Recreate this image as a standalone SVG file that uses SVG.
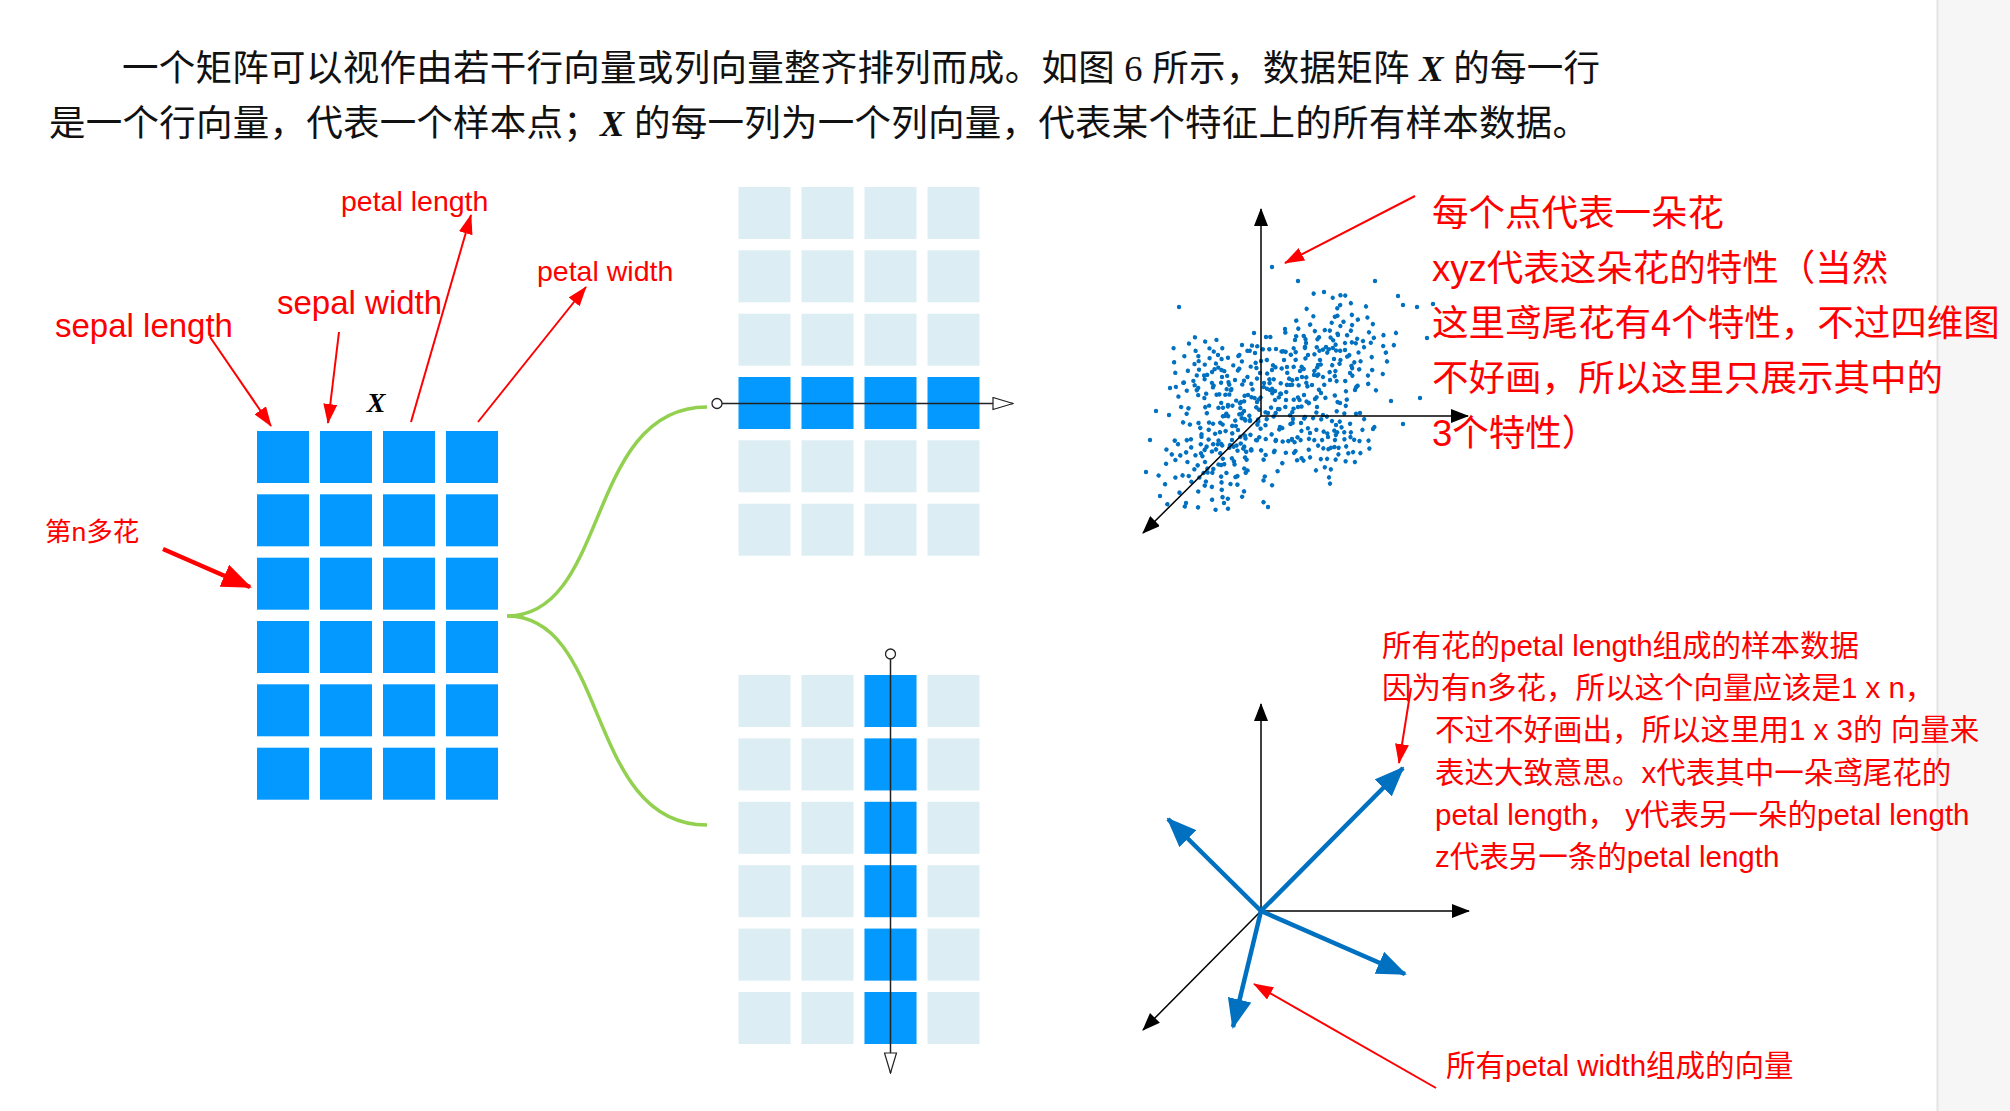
<svg xmlns="http://www.w3.org/2000/svg" xmlns:xlink="http://www.w3.org/1999/xlink" width="2010" height="1111" viewBox="0 0 2010 1111">
<style>
.para{font-family:"Liberation Serif","Noto Sans CJK SC",serif;font-size:36.5px;fill:#111}
.lbl{font-family:"Liberation Sans","Noto Sans CJK SC",sans-serif;fill:#ff0000}
.big{font-size:33px}
.sm{font-size:28.5px}
.note{font-size:36.5px}
.note2{font-size:29.5px}
.red{stroke:#ff0000;stroke-width:2;fill:none}
.redb{stroke:#ff0000;stroke-width:4.5;fill:none}
.axis{stroke:#000;stroke-width:1.5;fill:none}
.vec{stroke:#0070c0;stroke-width:4.5;fill:none}
.dots{stroke:#0070c0;stroke-width:4.4;stroke-linecap:round;fill:none;vector-effect:non-scaling-stroke}
.blue{fill:#0399ff}
.light{fill:#dcedf3}
.brace{stroke:#92d050;stroke-width:3.5;fill:none}
.track{stroke:#222;stroke-width:1.5;fill:none}
</style>
<defs>
<marker id="mR" viewBox="0 0 20 14" refX="19" refY="7" markerWidth="20" markerHeight="14" markerUnits="userSpaceOnUse" orient="auto"><path d="M0,0 L20,7 L0,14 z" fill="#ff0000"/></marker>
<marker id="mRb" viewBox="0 0 30 24" refX="28" refY="12" markerWidth="30" markerHeight="24" markerUnits="userSpaceOnUse" orient="auto"><path d="M0,0 L30,12 L0,24 z" fill="#ff0000"/></marker>
<marker id="mK" viewBox="0 0 18 14" refX="17" refY="7" markerWidth="18" markerHeight="14" markerUnits="userSpaceOnUse" orient="auto"><path d="M0,0 L18,7 L0,14 z" fill="#000"/></marker>
<marker id="mB" viewBox="0 0 30 24" refX="28" refY="12" markerWidth="30" markerHeight="24" markerUnits="userSpaceOnUse" orient="auto"><path d="M0,0 L30,12 L0,24 z" fill="#0070c0"/></marker>
<marker id="mO" viewBox="0 0 22 14" refX="21" refY="7" markerWidth="22" markerHeight="14" markerUnits="userSpaceOnUse" orient="auto"><path d="M1,1 L21,7 L1,13 z" fill="#fff" stroke="#222" stroke-width="1.2"/></marker>
<g id="r4"><rect x="0" y="0" width="52" height="52"/><rect x="63" y="0" width="52" height="52"/><rect x="126" y="0" width="52" height="52"/><rect x="189" y="0" width="52" height="52"/></g>
<path id="cl" class="dots" d="M0 0h.01M12 -8h.01M-15 6h.01M25 14h.01M-30 -12h.01M8 22h.01M-6 -25h.01M40 -5h.01M-42 10h.01M18 -30h.01M-22 28h.01M33 30h.01M-35 -32h.01M5 -45h.01M-10 42h.01M50 18h.01M-55 -5h.01M28 -20h.01M-18 -15h.01M14 10h.01M-4 15h.01M22 0h.01M-26 -2h.01M10 -14h.01M-12 24h.01M36 -38h.01M-40 36h.01M60 -12h.01M-62 20h.01M3 34h.01M46 40h.01M-48 -40h.01M20 48h.01M-24 -48h.01M65 5h.01M-68 -8h.01M7 -6h.01M-9 9h.01M31 8h.01M-33 17h.01M16 -42h.01M-14 -36h.01M44 -26h.01M-46 26h.01M55 -35h.01M-52 45h.01M27 22h.01M-29 -24h.01M2 54h.01M-5 -56h.01M70 28h.01M-72 -30h.01M38 52h.01M-36 -52h.01M11 38h.01M-20 5h.01M48 -50h.01M-58 55h.01M24 -10h.01M-3 -18h.01"/>
</defs>

<rect id="side-panel" x="1937" y="0" width="73" height="1111" fill="#f6f6f6"/>
<line x1="1937.5" y1="0" x2="1937.5" y2="1111" stroke="#e4e4e4" stroke-width="2"/>

<g id="paragraph">
<text class="para" x="122" y="80.5" textLength="1478">一个矩阵可以视作由若干行向量或列向量整齐排列而成。如图 6 所示，数据矩阵 <tspan font-weight="bold" font-style="italic">X</tspan> 的每一行</text>
<text class="para" x="49" y="135.5" textLength="1540">是一个行向量，代表一个样本点；<tspan font-weight="bold" font-style="italic">X</tspan> 的每一列为一个列向量，代表某个特征上的所有样本数据。</text>
</g>

<g id="matrix-X">
<use href="#r4" x="257" y="431" class="blue"/>
<use href="#r4" x="257" y="494.3" class="blue"/>
<use href="#r4" x="257" y="557.7" class="blue"/>
<use href="#r4" x="257" y="621" class="blue"/>
<use href="#r4" x="257" y="684.3" class="blue"/>
<use href="#r4" x="257" y="747.7" class="blue"/>
<text x="376" y="412" text-anchor="middle" font-family="Liberation Serif, serif" font-weight="bold" font-style="italic" font-size="28" fill="#000">X</text>
</g>

<g id="label-sepal-length"><text class="lbl big" x="55" y="337">sepal length</text></g>
<g id="label-sepal-width"><text class="lbl big" x="277" y="314">sepal width</text></g>
<g id="label-petal-length"><text class="lbl sm" x="341" y="211">petal length</text></g>
<g id="label-petal-width"><text class="lbl sm" x="537" y="281">petal width</text></g>
<g id="label-nth"><text class="lbl" font-size="26.5" x="45" y="541">第n多花</text></g>

<g id="matrix-row">
<use href="#r4" x="738.5" y="187" class="light"/>
<use href="#r4" x="738.5" y="250.3" class="light"/>
<use href="#r4" x="738.5" y="313.7" class="light"/>
<use href="#r4" x="738.5" y="377" class="blue"/>
<use href="#r4" x="738.5" y="440.3" class="light"/>
<use href="#r4" x="738.5" y="503.7" class="light"/>
</g>

<g id="matrix-col">
<use href="#r4" x="738.5" y="675" class="light"/>
<use href="#r4" x="738.5" y="738.4" class="light"/>
<use href="#r4" x="738.5" y="801.8" class="light"/>
<use href="#r4" x="738.5" y="865.2" class="light"/>
<use href="#r4" x="738.5" y="928.6" class="light"/>
<use href="#r4" x="738.5" y="992" class="light"/>
<rect class="blue" x="864.5" y="675" width="52" height="52"/>
<rect class="blue" x="864.5" y="738.4" width="52" height="52"/>
<rect class="blue" x="864.5" y="801.8" width="52" height="52"/>
<rect class="blue" x="864.5" y="865.2" width="52" height="52"/>
<rect class="blue" x="864.5" y="928.6" width="52" height="52"/>
<rect class="blue" x="864.5" y="992" width="52" height="52"/>
</g>

<g id="scatter3d">
<use href="#cl" transform="translate(1290,385) rotate(0) scale(1.0)"/>
<use href="#cl" transform="translate(1250,420) rotate(73) scale(0.95)"/>
<use href="#cl" transform="translate(1320,360) rotate(151) scale(0.85)"/>
<use href="#cl" transform="translate(1230,445) rotate(217) scale(0.85)"/>
<use href="#cl" transform="translate(1275,400) rotate(289) scale(0.8)"/>
<use href="#cl" transform="translate(1345,343) rotate(35) scale(0.75)"/>
<use href="#cl" transform="translate(1205,462) rotate(110) scale(0.75)"/>
<use href="#cl" transform="translate(1212,372) rotate(190) scale(0.6)"/>
<use href="#cl" transform="translate(1335,440) rotate(320) scale(0.55)"/>
<path class="dots" d="M1272 267h.01M1298 281h.01M1375 281h.01M1324 292h.01M1179 307h.01M1398 296h.01M1403 305h.01M1417 307h.01M1433 304h.01M1427 338h.01M1391 401h.01M1420 398h.01M1403 424h.01M1373 429h.01M1146 472h.01M1160 496h.01M1268 507h.01M1156 411h.01M1169 415h.01M1186 503h.01M1224 503h.01M1150 440h.01M1170 388h.01"/>
<path class="axis" d="M1261,416 V209" marker-end="url(#mK)"/>
<path class="axis" d="M1261,416 H1468" marker-end="url(#mK)"/>
<path class="axis" d="M1261,416 L1143,533" marker-end="url(#mK)"/>
</g>

<g id="vectors3d">
<path class="axis" d="M1261,911 V704" marker-end="url(#mK)"/>
<path class="axis" d="M1261,911 H1469" marker-end="url(#mK)"/>
<path class="axis" d="M1261,911 L1143,1030" marker-end="url(#mK)"/>
<path class="vec" d="M1261,911 L1403,768" marker-end="url(#mB)"/>
<path class="vec" d="M1261,911 L1168,819" marker-end="url(#mB)"/>
<path class="vec" d="M1261,911 L1405,974" marker-end="url(#mB)"/>
<path class="vec" d="M1261,911 L1233,1027" marker-end="url(#mB)"/>
</g>

<g id="note-points">
<text class="lbl note" x="1432" y="225.5">每个点代表一朵花</text>
<text class="lbl note" x="1432" y="280.5">xyz代表这朵花的特性（当然</text>
<text class="lbl note" x="1432" y="335.5">这里鸢尾花有4个特性，不过四维图</text>
<text class="lbl note" x="1432" y="390.5">不好画，所以这里只展示其中的</text>
<text class="lbl note" x="1432" y="445.5">3个特性）</text>
</g>

<g id="note-petal-length">
<text class="lbl note2" x="1382" y="656">所有花的petal length组成的样本数据</text>
<text class="lbl note2" x="1382" y="698">因为有n多花，所以这个向量应该是1 x n，</text>
<text class="lbl note2" x="1435" y="740">不过不好画出，所以这里用1 x 3的 向量来</text>
<text class="lbl note2" x="1435" y="782.5">表达大致意思。x代表其中一朵鸢尾花的</text>
<text class="lbl note2" x="1435" y="825">petal length， y代表另一朵的petal length</text>
<text class="lbl note2" x="1435" y="867">z代表另一条的petal length</text>
</g>

<g id="note-petal-width">
<text class="lbl note2" x="1446" y="1076">所有petal width组成的向量</text>
</g>

<g id="connectors">
<path class="brace" d="M507,616 C610,616 585,407 707,407"/>
<path class="brace" d="M507,616 C610,616 585,825 707,825"/>
<path class="track" d="M722,403.5 H1013" marker-end="url(#mO)"/>
<circle cx="717" cy="403.5" r="5" fill="#fff" stroke="#222" stroke-width="1.3"/>
<path class="track" d="M890.5,659 V1073" marker-end="url(#mO)"/>
<circle cx="890.5" cy="654" r="5" fill="#fff" stroke="#222" stroke-width="1.3"/>
<path class="red" d="M210,337 L271,426" marker-end="url(#mR)"/>
<path class="red" d="M339,332 L328,423" marker-end="url(#mR)"/>
<path class="red" d="M411,422 L471,215" marker-end="url(#mR)"/>
<path class="red" d="M478,422 L586,287" marker-end="url(#mR)"/>
<path class="redb" d="M163,549 L250,587" marker-end="url(#mRb)"/>
<path class="red" d="M1415,196 L1285,263" marker-end="url(#mR)"/>
<path class="red" d="M1411,688 L1399,763" marker-end="url(#mR)"/>
<path class="red" d="M1436,1088 L1254,984" marker-end="url(#mR)"/>
</g>
</svg>
